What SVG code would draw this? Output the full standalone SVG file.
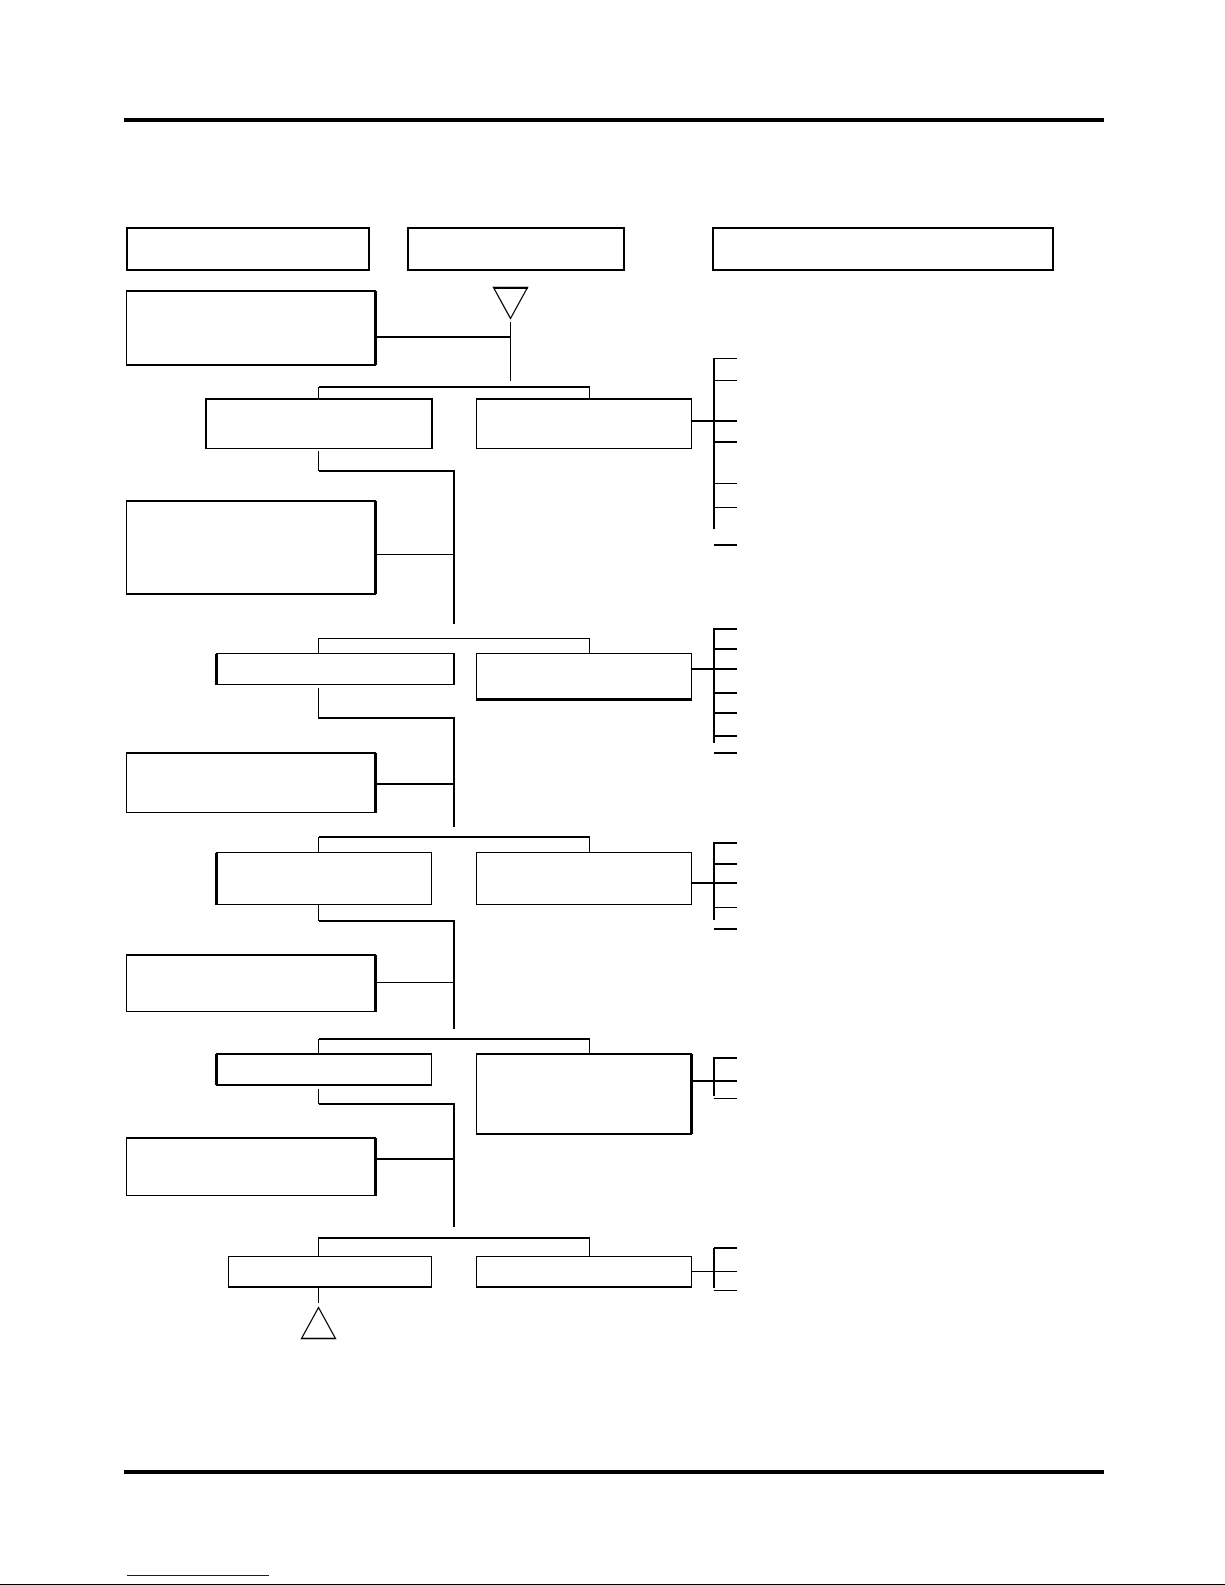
<svg xmlns="http://www.w3.org/2000/svg" width="1225" height="1585" viewBox="0 0 1225 1585">
<style>
.bx{fill:#fff;stroke:#000;stroke-width:1.2;shape-rendering:crispEdges}
.hd{fill:#fff;stroke:#000;stroke-width:2;shape-rendering:crispEdges}
.k{stroke:#000;stroke-width:2.2;fill:none;shape-rendering:crispEdges}
.t{stroke:#000;stroke-width:1.1;fill:none;shape-rendering:crispEdges}
.tri{fill:#fff;stroke:#000;stroke-width:1.3;stroke-linejoin:miter}
</style>
<rect width="1225" height="1585" fill="#fff"/>
<g id="rules">
<rect x="124" y="118" width="980" height="4" fill="#000"/>
<rect x="124" y="1470" width="980" height="4" fill="#000"/>
<line x1="127" y1="1575.5" x2="269" y2="1575.5" stroke="#0000ff" stroke-width="1"/>
<line x1="0" y1="1584.5" x2="1225" y2="1584.5" stroke="#000" stroke-width="1.2"/>
</g>
<g id="connectors">
<!-- level 0 -->
<line class="k" x1="375.5" y1="337" x2="510.5" y2="337"/>
<line class="t" x1="510.5" y1="321.5" x2="510.5" y2="381"/>
<polyline class="k" points="318.5,387 589.5,387"/>
<line class="t" x1="318.5" y1="387" x2="318.5" y2="399"/>
<line class="t" x1="589.5" y1="387" x2="589.5" y2="399"/>
<line class="t" x1="318.5" y1="451" x2="318.5" y2="471"/>
<polyline class="k" points="318.5,471 454,471 454,623.5"/>
<line class="t" x1="375.5" y1="554.5" x2="454" y2="554.5"/>
<line class="k" x1="691.5" y1="421" x2="736.5" y2="421"/>
<line class="k" x1="714" y1="357.5" x2="714" y2="529"/>
<line class="t" x1="714" y1="358.5" x2="736.5" y2="358.5"/>
<line class="t" x1="714" y1="380.5" x2="736.5" y2="380.5"/>
<line class="k" x1="714" y1="442" x2="736.5" y2="442"/>
<line class="t" x1="714" y1="483.5" x2="736.5" y2="483.5"/>
<line class="t" x1="714" y1="507.5" x2="736.5" y2="507.5"/>
<line class="k" x1="714" y1="545" x2="736.5" y2="545"/>
<!-- level 1 -->
<polyline class="t" points="318.5,653.5 318.5,638.5 589.5,638.5 589.5,653.5"/>
<polyline class="t" points="318.5,687.5 318.5,718 454,718"/>
<line class="k" x1="454" y1="717" x2="454" y2="827"/>
<line class="t" x1="375.5" y1="784" x2="454" y2="784"/>
<line class="k" x1="691.5" y1="669" x2="736.5" y2="669"/>
<line class="k" x1="714" y1="628" x2="714" y2="743"/>
<line class="k" x1="714" y1="629" x2="736.5" y2="629"/>
<line class="k" x1="714" y1="649" x2="736.5" y2="649"/>
<line class="k" x1="714" y1="693" x2="736.5" y2="693"/>
<line class="t" x1="714" y1="713" x2="736.5" y2="713"/>
<line class="t" x1="714" y1="736" x2="736.5" y2="736"/>
<line class="k" x1="714" y1="753" x2="736.5" y2="753"/>
<!-- level 2 -->
<line class="k" x1="318.5" y1="837" x2="589.5" y2="837"/>
<line class="t" x1="318.5" y1="837" x2="318.5" y2="852.5"/>
<line class="t" x1="589.5" y1="837" x2="589.5" y2="852.5"/>
<line class="t" x1="318.5" y1="904.5" x2="318.5" y2="921"/>
<polyline class="k" points="318.5,921 454,921 454,1028.5"/>
<line class="t" x1="375.5" y1="982.5" x2="454" y2="982.5"/>
<line class="t" x1="691.5" y1="883" x2="736.5" y2="883"/>
<line class="k" x1="714" y1="842" x2="714" y2="920"/>
<line class="k" x1="714" y1="843" x2="736.5" y2="843"/>
<line class="t" x1="714" y1="864" x2="736.5" y2="864"/>
<line class="t" x1="714" y1="907.5" x2="736.5" y2="907.5"/>
<line class="k" x1="714" y1="929" x2="736.5" y2="929"/>
<!-- level 3 -->
<line class="k" x1="318.5" y1="1039" x2="589.5" y2="1039"/>
<line class="t" x1="318.5" y1="1039" x2="318.5" y2="1054"/>
<line class="t" x1="589.5" y1="1039" x2="589.5" y2="1054"/>
<line class="t" x1="318.5" y1="1088.5" x2="318.5" y2="1104"/>
<polyline class="k" points="318.5,1104 454,1104 454,1227"/>
<line class="k" x1="375.5" y1="1159" x2="454" y2="1159"/>
<line class="k" x1="691.5" y1="1081" x2="736.5" y2="1081"/>
<line class="k" x1="714" y1="1057" x2="714" y2="1096"/>
<line class="k" x1="714" y1="1058" x2="736.5" y2="1058"/>
<line class="t" x1="714" y1="1098.5" x2="736.5" y2="1098.5"/>
<!-- level 4 -->
<polyline class="t" points="318.5,1256.5 318.5,1238 589.5,1238 589.5,1256.5"/>
<line class="t" x1="691.5" y1="1271.5" x2="736.5" y2="1271.5"/>
<line class="k" x1="714" y1="1247.5" x2="714" y2="1288"/>
<line class="t" x1="714" y1="1248" x2="736.5" y2="1248"/>
<line class="t" x1="714" y1="1290.5" x2="736.5" y2="1290.5"/>
<line class="t" x1="318.5" y1="1287" x2="318.5" y2="1303"/>
</g>
<g id="hdrA"><rect class="hd" x="126.5" y="227.5" width="242.5" height="42"/></g>
<g id="hdrB"><rect class="hd" x="408" y="227.5" width="216" height="42"/></g>
<g id="hdrC"><rect class="hd" x="713" y="227.5" width="339.5" height="42"/></g>
<g id="startTri"><polygon class="tri" points="493.5,287.5 527.5,287.5 510.5,318.5"/><line class="k" x1="493.5" y1="288" x2="527.5" y2="288"/></g>
<g id="boxD"><rect class="bx" x="126.5" y="291" width="249" height="74"/><line class="k" x1="126" y1="291" x2="375.5" y2="291"/><line class="k" x1="375.5" y1="291" x2="375.5" y2="365"/></g>
<g id="boxE"><rect class="bx" x="206" y="399" width="226" height="49.5"/><line class="k" x1="206" y1="399" x2="206" y2="448.5"/></g>
<g id="boxF"><rect class="bx" x="476.5" y="399" width="215" height="49.5"/></g>
<g id="boxG"><rect class="bx" x="126.5" y="501" width="249" height="93"/><line class="k" x1="375.5" y1="501" x2="375.5" y2="594"/></g>
<g id="boxH"><rect class="bx" x="216.5" y="653.5" width="237.5" height="31"/><line class="k" x1="216.5" y1="653.5" x2="216.5" y2="684.5"/><line class="k" x1="454" y1="653.5" x2="454" y2="684.5"/></g>
<g id="boxI"><rect class="bx" x="476.5" y="653.5" width="215" height="46"/><line class="k" x1="476" y1="699.5" x2="692" y2="699.5"/></g>
<g id="boxJ"><rect class="bx" x="126.5" y="753" width="249" height="59.5"/><line class="k" x1="126" y1="753" x2="375.5" y2="753"/><line class="k" x1="375.5" y1="753" x2="375.5" y2="812.5"/></g>
<g id="boxK"><rect class="bx" x="216.5" y="852.5" width="215" height="52"/><line class="k" x1="216.5" y1="852.5" x2="216.5" y2="904.5"/></g>
<g id="boxL"><rect class="bx" x="476.5" y="852.5" width="215" height="52"/></g>
<g id="boxM"><rect class="bx" x="126.5" y="955" width="249" height="56.5"/><line class="k" x1="126" y1="955" x2="375.5" y2="955"/><line class="k" x1="375.5" y1="955" x2="375.5" y2="1011.5"/></g>
<g id="boxN"><rect class="bx" x="216.5" y="1054" width="215" height="31"/><line class="k" x1="216.5" y1="1054" x2="216.5" y2="1085"/><line class="k" x1="216" y1="1085" x2="432" y2="1085"/></g>
<g id="boxO"><rect class="bx" x="476.5" y="1054" width="215" height="80"/><line class="k" x1="476" y1="1134" x2="692" y2="1134"/><line class="k" x1="691.5" y1="1054" x2="691.5" y2="1134"/></g>
<g id="boxP"><rect class="bx" x="126.5" y="1138" width="249" height="57.5"/><line class="k" x1="126" y1="1138" x2="375.5" y2="1138"/><line class="k" x1="375.5" y1="1138" x2="375.5" y2="1195.5"/></g>
<g id="boxQ"><rect class="bx" x="228.5" y="1256.5" width="203" height="30.5"/><line class="k" x1="228" y1="1287" x2="432" y2="1287"/></g>
<g id="boxR"><rect class="bx" x="476.5" y="1256.5" width="215" height="30.5"/><line class="k" x1="476" y1="1287" x2="692" y2="1287"/></g>
<g id="endTri"><polygon class="tri" points="318.5,1307.5 335.5,1338.5 301.5,1338.5"/></g>
</svg>
